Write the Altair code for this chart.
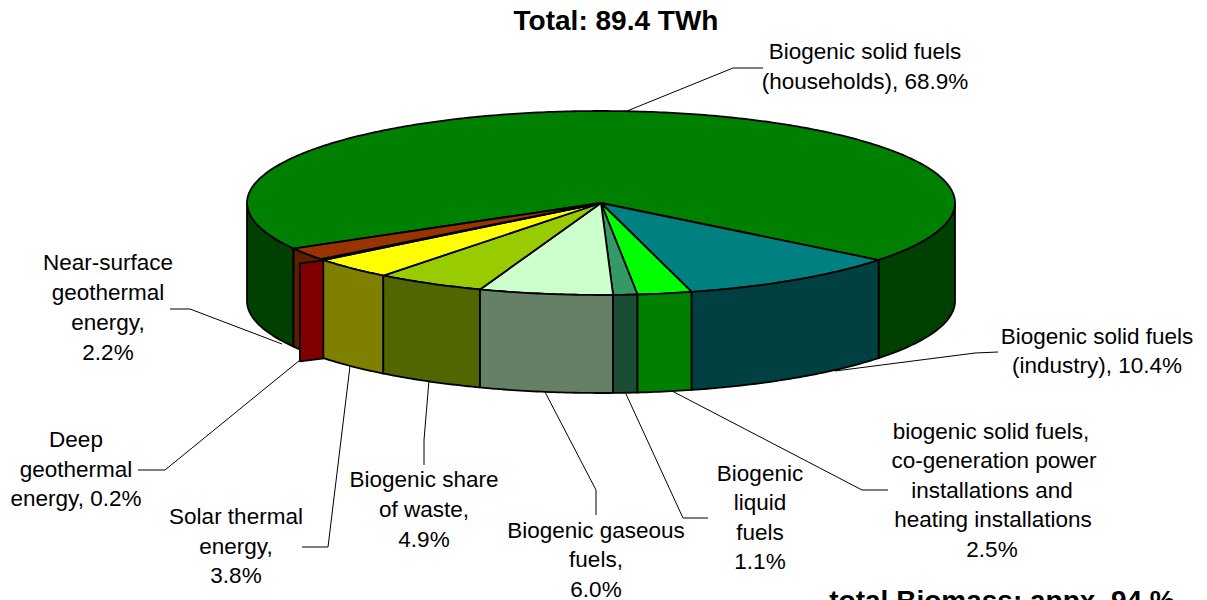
import math
import altair as alt
import pandas as pd

# slices, clockwise on screen starting at the big green slice
names = ["Biogenic solid fuels (households)", "Biogenic solid fuels (industry)", "biogenic solid fuels, co-generation",
         "Biogenic liquid fuels", "Biogenic gaseous fuels", "Biogenic share of waste",
         "Solar thermal energy", "Deep geothermal energy", "Near-surface geothermal energy"]
shares = [68.9, 10.4, 2.5, 1.1, 6.0, 4.9, 3.8, 0.2, 2.2]
top_colors = ["#008000", "#008080", "#00ff00", "#339966", "#ccffcc", "#99cc00", "#ffff00", "#800000", "#993300"]
wall_colors = ["#004000", "#004040", "#008000", "#1a4d33", "#668066", "#526600", "#808000", "#800000", "#5c2000"]

CX, CY, RX, RY, DEPTH = 601, 203, 354, 92, 98
START = 150.3  # where the big slice starts, degrees on the ellipse


def pt(t, dy=0):
    a = math.radians(t)
    return [CX + RX * math.cos(a), CY + RY * math.sin(a) + dy]


def arc(t0, t1, dy=0):
    n = max(2, int(abs(t1 - t0) * 1.5))
    return [pt(t0 + (t1 - t0) * i / n, dy) for i in range(n + 1)]


def poly(points, fill, name):
    return {"type": "Feature", "properties": {"fill": fill, "name": name},
            "geometry": {"type": "Polygon", "coordinates": [points + [points[0]]]}}


def wall(t0, t1, fill, name):
    upper = arc(t0, t1)
    lower = arc(t1, t0, DEPTH)
    return poly(upper + lower, fill, name)


def warp(t):
    # the front of the pie is drawn slightly foreshortened by the perspective
    u = t % 360
    if 38 < u < 135:
        return t - 0.7 * math.sin(math.pi * (u - 38) / 97) ** 2
    return t


features = []
ranges = []
t = START
for s, n, c in zip(shares, names, top_colors):
    t1 = t + s * 3.6
    ranges.append((warp(t), warp(t1)))
    t = t1
# top faces
for (a, b), n, c in zip(ranges, names, top_colors):
    features.append(poly([[CX, CY]] + arc(a, b), c, n))
# side walls (only the front half of the ellipse shows)
a0, b0 = ranges[0]
features.append(wall(180, a0, wall_colors[0], names[0]))
features.append(wall(b0 - 360, 0, wall_colors[0], names[0]))
features.append(wall(ranges[8][0], ranges[8][1], wall_colors[8], names[8]))
# the deep-geothermal wall sits skewed in front of its neighbour
d0 = ranges[7][0]
p_r = pt(d0 - 0.2)
p_l = pt(d0 + 6.6, 12)
features.append(poly([p_l, p_r, [p_r[0], p_r[1] + DEPTH], [p_l[0], p_l[1] + DEPTH]], wall_colors[7], names[7]))
for i in (6, 5, 4, 3, 2, 1):
    a, b = ranges[i]
    features.append(wall(a, b, wall_colors[i], names[i]))

pie = (
    alt.Chart(alt.InlineData(values={"type": "FeatureCollection", "features": features},
                             format=alt.DataFormat(property="features", type="json")))
    .mark_geoshape(stroke="black", strokeWidth=1.8, strokeJoin="round")
    .encode(fill=alt.Fill("properties.fill:N", scale=None))
    .project(type="identity", scale=1, translate=[-8, -8])
)

# leader lines
leaders = {
    "households": [(627, 111), (733, 68), (763, 68)],
    "industry": [(835, 371), (975, 353), (998, 352)],
    "cogen": [(672, 391), (862, 490), (888, 490)],
    "liquid": [(626, 394), (683, 518), (708, 518)],
    "gaseous": [(545, 392), (596, 490), (596, 515)],
    "waste": [(429, 380), (424, 440), (424, 465)],
    "solar": [(350, 366), (328, 547), (302, 547)],
    "deep": [(300, 360), (165, 470), (138, 470)],
    "near": [(282, 344), (190, 309), (170, 309)],
}
line_rows = [{"k": k, "i": i, "x": p[0], "y": p[1]} for k, v in leaders.items() for i, p in enumerate(v)]

X = alt.Scale(domain=[8, 1199], range=[0, 1191])
Y = alt.Scale(domain=[8, 600], range=[0, 592])

lines = (
    alt.Chart(pd.DataFrame(line_rows))
    .mark_line(color="black", strokeWidth=1)
    .encode(x=alt.X("x:Q", scale=X, axis=None), y=alt.Y("y:Q", scale=Y, axis=None),
            detail="k:N", order="i:Q")
)

label_text = ["Biogenic solid fuels", "(households), 68.9%",
              "Biogenic solid fuels", "(industry), 10.4%",
              "biogenic solid fuels,", "co-generation power", "installations and", "heating installations", "2.5%",
              "Biogenic", "liquid", "fuels", "1.1%",
              "Biogenic gaseous", "fuels,", "6.0%",
              "Biogenic share", "of waste,", "4.9%",
              "Solar thermal", "energy,", "3.8%",
              "Deep", "geothermal", "energy, 0.2%",
              "Near-surface", "geothermal", "energy,", "2.2%"]
label_x = [865, 865, 1097, 1097, 991, 994, 992, 993, 992, 760, 760, 760, 760,
           596, 596, 596, 424, 424, 424, 236, 236, 236, 76, 76, 76, 108, 108, 108, 108]
label_y = [52, 82, 337, 366, 432, 461, 491, 520, 550, 474, 503, 533, 562,
           531, 560, 590, 480, 510, 540, 517, 547, 576, 440, 470, 499, 263, 293, 323, 353]

labels = (
    alt.Chart(pd.DataFrame({"t": label_text, "x": label_x, "y": label_y}))
    .mark_text(font="Liberation Sans", fontSize=22.5, align="center", baseline="middle", color="black")
    .encode(x=alt.X("x:Q", scale=X, axis=None), y=alt.Y("y:Q", scale=Y, axis=None), text="t:N")
)

head_text = ["Total: 89.4 TWh", "total Biomass: appx. 94 %"]
head_x = [616, 1002]
head_y = [22, 602]
heads = (
    alt.Chart(pd.DataFrame({"t": head_text, "x": head_x, "y": head_y}))
    .mark_text(font="Liberation Sans", fontSize=28, fontWeight="bold", align="center", baseline="middle",
               color="black", clip=False)
    .encode(x=alt.X("x:Q", scale=X, axis=None), y=alt.Y("y:Q", scale=Y, axis=None), text="t:N")
)

chart = (
    alt.layer(lines, pie, labels, heads)
    .properties(width=1191, height=592, padding=0, background="white",
                autosize=alt.AutoSizeParams(type="none", contains="padding"))
    .configure_view(stroke=None)
)
chart.save("out.html", embed_options={"renderer": "svg", "actions": False})
